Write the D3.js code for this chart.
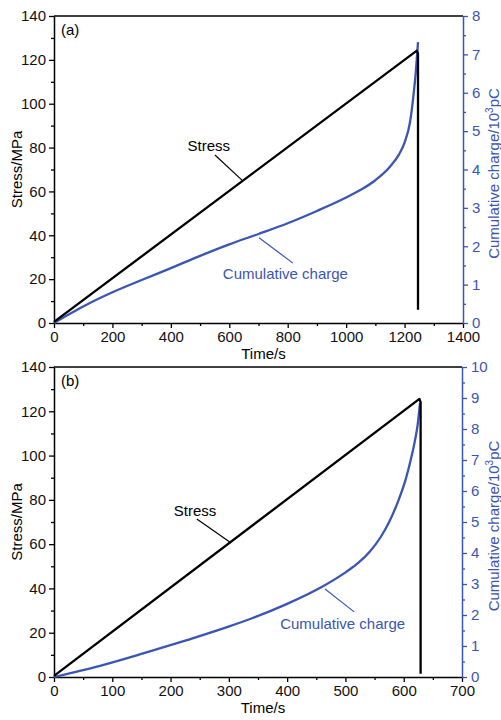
<!DOCTYPE html>
<html>
<head>
<meta charset="utf-8">
<script src="https://cdn.jsdelivr.net/npm/d3@7"></script>
<style>
  body { margin: 0; background: #fff; }
  svg text { font-family: "Liberation Sans", Arial, sans-serif; }
</style>
</head>
<body>
<div id="chart"></div>
<script>
// panel (a)
var stressTimeA = [0, 1242, 1246, 1246];
var stressA = [0.5, 124.2, 123, 6];
var chargeTimeA = [0, 50, 100, 200, 300, 400, 500, 600, 700, 800, 900, 1000, 1050, 1100, 1150, 1180, 1200, 1219, 1230, 1239, 1246];
var chargeA = [0, 0.22, 0.43, 0.80, 1.12, 1.43, 1.75, 2.05, 2.32, 2.6, 2.92, 3.27, 3.47, 3.72, 4.07, 4.38, 4.7, 5.25, 5.9, 6.59, 7.32];

// panel (b)
var stressTimeB = [0, 627, 629, 629];
var stressB = [0.5, 125.6, 124, 1.5];
var chargeTimeB = [0, 79, 153, 228, 302, 342, 399, 456, 502, 522, 542, 560, 575, 590, 603, 612, 619, 624, 628];
var chargeB = [0, 0.36, 0.76, 1.19, 1.64, 1.91, 2.35, 2.87, 3.40, 3.68, 4.05, 4.5, 5.0, 5.65, 6.35, 7.0, 7.6, 8.15, 8.84];

var blue = "#3a55b2";
var W = 501, H = 720;

var svg = d3.select("#chart").append("svg")
    .attr("width", W)
    .attr("height", H);

function drawPanel(cfg) {
    var x = d3.scaleLinear().domain([0, cfg.xMax]).range([cfg.left, cfg.right]);
    var y = d3.scaleLinear().domain([0, 140]).range([cfg.bottom, cfg.top]);
    var y2 = d3.scaleLinear().domain([0, cfg.y2Max]).range([cfg.bottom, cfg.top]);
    var fmt = d3.format("d");

    var g = svg.append("g");

    // minor ticks
    g.append("g")
        .attr("transform", "translate(0," + cfg.bottom + ")")
        .call(d3.axisBottom(x).tickValues(d3.range(cfg.xStep / 2, cfg.xMax, cfg.xStep)).tickSize(3).tickFormat(""))
        .call(function(s) { s.select(".domain").remove(); s.selectAll("line").attr("stroke", "#000").attr("stroke-width", 1.3); });
    g.append("g")
        .attr("transform", "translate(" + cfg.left + ",0)")
        .call(d3.axisLeft(y).tickValues(d3.range(10, 140, 20)).tickSize(3).tickFormat(""))
        .call(function(s) { s.select(".domain").remove(); s.selectAll("line").attr("stroke", "#000").attr("stroke-width", 1.3); });
    g.append("g")
        .attr("transform", "translate(" + cfg.right + ",0)")
        .call(d3.axisRight(y2).tickValues(d3.range(0.5, cfg.y2Max, 1)).tickSize(3).tickFormat(""))
        .call(function(s) { s.select(".domain").remove(); s.selectAll("line").attr("stroke", blue).attr("stroke-width", 1.3); });

    // major axes
    var xAx = g.append("g")
        .attr("transform", "translate(0," + cfg.bottom + ")")
        .call(d3.axisBottom(x).tickValues(d3.range(0, cfg.xMax + 1, cfg.xStep)).tickFormat(fmt).tickSize(5).tickSizeOuter(0).tickPadding(3));
    var yAx = g.append("g")
        .attr("transform", "translate(" + cfg.left + ",0)")
        .call(d3.axisLeft(y).tickValues(d3.range(0, 141, 20)).tickFormat(fmt).tickSize(5).tickSizeOuter(0).tickPadding(3));
    var y2Ax = g.append("g")
        .attr("transform", "translate(" + cfg.right + ",0)")
        .call(d3.axisRight(y2).tickValues(d3.range(0, cfg.y2Max + 1, 1)).tickFormat(fmt).tickSize(5).tickSizeOuter(0).tickPadding(4));

    [xAx, yAx].forEach(function(a) {
        a.select(".domain").attr("stroke", "#000").attr("stroke-width", 1.5);
        a.selectAll("line").attr("stroke", "#000").attr("stroke-width", 1.3);
        a.selectAll("text").attr("font-size", 15).attr("fill", "#111");
    });
    y2Ax.select(".domain").attr("stroke", blue).attr("stroke-width", 1.5);
    y2Ax.selectAll("line").attr("stroke", blue).attr("stroke-width", 1.3);
    y2Ax.selectAll("text").attr("font-size", 15).attr("fill", blue);

    // top frame line
    g.append("line")
        .attr("x1", cfg.left).attr("x2", cfg.right)
        .attr("y1", cfg.top).attr("y2", cfg.top)
        .attr("stroke", "#000").attr("stroke-width", 1.5);

    // lines
    var stressLine = d3.line()
        .x(function(d, i) { return x(cfg.sTime[i]); })
        .y(function(d) { return y(d); });
    var chargeLine = d3.line()
        .x(function(d, i) { return x(cfg.cTime[i]); })
        .y(function(d) { return y2(d); })
        .curve(d3.curveMonotoneX);

    g.append("path")
        .attr("d", chargeLine(cfg.charge))
        .attr("fill", "none").attr("stroke", blue).attr("stroke-width", 2.3);
    g.append("path")
        .attr("d", stressLine(cfg.stress))
        .attr("fill", "none").attr("stroke", "#000").attr("stroke-width", 2.3)
        .attr("stroke-linejoin", "round");

    // annotations
    g.append("text")
        .attr("x", x(cfg.stressLabel[0])).attr("y", y(cfg.stressLabel[1]))
        .attr("text-anchor", "middle").attr("dy", "0.35em")
        .attr("font-size", 15).attr("fill", "#000")
        .text("Stress");
    g.append("line")
        .attr("x1", x(cfg.stressLeader[0])).attr("y1", y(cfg.stressLeader[1]))
        .attr("x2", x(cfg.stressLeader[2])).attr("y2", y(cfg.stressLeader[3]))
        .attr("stroke", "#000").attr("stroke-width", 1.2);

    g.append("text")
        .attr("x", x(cfg.chargeLabel[0])).attr("y", y2(cfg.chargeLabel[1]))
        .attr("dy", "0.35em")
        .attr("font-size", 15).attr("fill", blue)
        .text("Cumulative charge");
    g.append("line")
        .attr("x1", x(cfg.chargeLeader[0])).attr("y1", y2(cfg.chargeLeader[1]))
        .attr("x2", x(cfg.chargeLeader[2])).attr("y2", y2(cfg.chargeLeader[3]))
        .attr("stroke", blue).attr("stroke-width", 1.2);

    // panel letter
    g.append("text")
        .attr("x", cfg.left + 7).attr("y", cfg.top + 19)
        .attr("font-size", 15).attr("fill", "#000")
        .text(cfg.letter);

    // axis titles
    var midY = (cfg.top + cfg.bottom) / 2;
    g.append("text")
        .attr("transform", "translate(17," + midY + ") rotate(-90)")
        .attr("text-anchor", "middle").attr("dy", "0.35em")
        .attr("font-size", 15).attr("fill", "#000")
        .text("Stress/MPa");
    g.append("text")
        .attr("x", (cfg.left + cfg.right) / 2 + 5).attr("y", cfg.bottom + 36)
        .attr("text-anchor", "middle")
        .attr("font-size", 15).attr("fill", "#000")
        .text("Time/s");
    var rt = g.append("text")
        .attr("transform", "translate(494," + (midY + 4) + ") rotate(-90)")
        .attr("text-anchor", "middle").attr("dy", "0.35em")
        .attr("font-size", 15).attr("fill", blue);
    rt.append("tspan").text("Cumulative charge/10");
    rt.append("tspan").attr("font-size", 10).attr("dy", -6).text("3");
    rt.append("tspan").attr("dy", 6).text("pC");
}

drawPanel({
    letter: "(a)",
    left: 54, right: 463, top: 16, bottom: 323,
    xMax: 1400, xStep: 200, y2Max: 8,
    sTime: stressTimeA, stress: stressA,
    cTime: chargeTimeA, charge: chargeA,
    stressLabel: [530, 80.7], stressLeader: [551, 76.6, 647, 64.7],
    chargeLabel: [578, 1.28], chargeLeader: [818, 1.56, 702, 2.22]
});

drawPanel({
    letter: "(b)",
    left: 54, right: 462, top: 367, bottom: 677,
    xMax: 700, xStep: 100, y2Max: 10,
    sTime: stressTimeB, stress: stressB,
    cTime: chargeTimeB, charge: chargeB,
    stressLabel: [242, 75], stressLeader: [245, 71.4, 304, 60.5],
    chargeLabel: [388, 1.71], chargeLeader: [515, 2.1, 465, 2.84]
});
</script>
</body>
</html>
